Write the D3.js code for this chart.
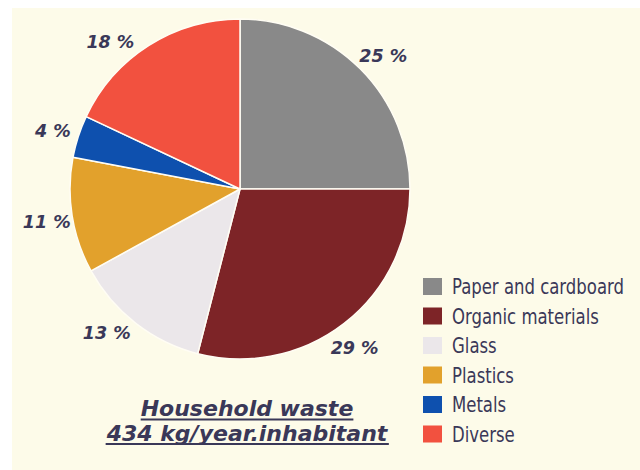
<!DOCTYPE html>
<html>
<head>
<meta charset="utf-8">
<script src="https://cdn.jsdelivr.net/npm/d3@7"></script>
<style>
  body { margin: 0; background: #fff; }
  svg { display: block; }
</style>
</head>
<body>
<div id="chart"></div>
<script>
// household waste composition pie
var categories = ["Paper and cardboard", "Organic materials", "Glass", "Plastics", "Metals", "Diverse"];
var shares = [25, 29, 13, 11, 4, 18];
var colours = ["#898989", "#7d2427", "#ebe7ea", "#e2a12c", "#0e50ae", "#f2513f"];
var titleLines = ["Household waste", "434 kg/year.inhabitant"];

// small angle nudges (degrees) so the % labels sit where the original has them
var labelShift = [2, 2, 5, -0.5, -0.7, -9];

var width = 640, height = 470;
var cx = 240, cy = 189, radius = 170, labelRadius = 196;
var ink = "#3a3858";

var svg = d3.select("#chart").append("svg")
  .attr("width", width)
  .attr("height", height);

// cream card
svg.append("rect")
  .attr("x", 12).attr("y", 8)
  .attr("width", width - 12).attr("height", height - 8)
  .attr("fill", "#fdfbe9");

var pie = d3.pie().sort(null).value(function(d) { return d; });
var arcs = pie(shares);
var arc = d3.arc().innerRadius(0).outerRadius(radius);

var g = svg.append("g").attr("transform", "translate(" + cx + "," + cy + ")");

g.selectAll("path.slice")
  .data(arcs)
  .enter().append("path")
  .attr("class", "slice")
  .attr("d", arc)
  .attr("fill", function(d, i) { return colours[i]; })
  .attr("stroke", "#fffdf4")
  .attr("stroke-width", 1.5)
  .attr("stroke-linejoin", "round");

g.selectAll("text.pct")
  .data(arcs)
  .enter().append("text")
  .attr("class", "pct")
  .attr("x", function(d, i) {
    var a = (d.startAngle + d.endAngle) / 2 + labelShift[i] * Math.PI / 180;
    return labelRadius * Math.sin(a);
  })
  .attr("y", function(d, i) {
    var a = (d.startAngle + d.endAngle) / 2 + labelShift[i] * Math.PI / 180;
    return -labelRadius * Math.cos(a);
  })
  .attr("dy", "0.36em")
  .attr("text-anchor", "middle")
  .style("font-family", "'DejaVu Sans', sans-serif")
  .style("font-weight", "bold")
  .style("font-style", "oblique")
  .style("font-size", "17.5px")
  .attr("fill", ink)
  .text(function(d) { return d.data + " %"; });

// legend
var legendY = d3.scalePoint().domain(categories).range([286.5, 434]);
var legend = svg.append("g");
var rows = legend.selectAll("g.row")
  .data(categories)
  .enter().append("g")
  .attr("class", "row")
  .attr("transform", function(d) { return "translate(0," + legendY(d) + ")"; });

rows.append("rect")
  .attr("x", 423).attr("y", -8.5)
  .attr("width", 19).attr("height", 17)
  .attr("fill", function(d, i) { return colours[i]; });

var labels = rows.append("text")
  .attr("y", 7.5)
  .style("font-family", "'Liberation Sans Narrow', 'DejaVu Sans Condensed', sans-serif")
  .style("font-size", "22px")
  .attr("fill", ink)
  .text(function(d) { return d; });

// no narrow face installed, so squeeze horizontally to the original's width
var longest = d3.max(labels.nodes(), function(n) { return n.getComputedTextLength(); });
var squeeze = Math.min(1, 172 / longest);
labels.attr("transform", "translate(452,0) scale(" + squeeze + ",1)");

// title, underlined
var title = svg.append("g");
titleLines.forEach(function(t, i) {
  var y = 416 + i * 24.5;
  var txt = title.append("text")
    .attr("x", 247)
    .attr("y", y)
    .attr("text-anchor", "middle")
    .style("font-family", "'DejaVu Sans', sans-serif")
    .style("font-weight", "bold")
    .style("font-style", "oblique")
    .style("font-size", "22px")
    .attr("fill", ink)
    .text(t);
  var bb = txt.node().getBBox();
  title.append("line")
    .attr("x1", bb.x).attr("x2", bb.x + bb.width)
    .attr("y1", y + 3.5).attr("y2", y + 3.5)
    .attr("stroke", ink)
    .attr("stroke-width", 2);
});
</script>
</body>
</html>
